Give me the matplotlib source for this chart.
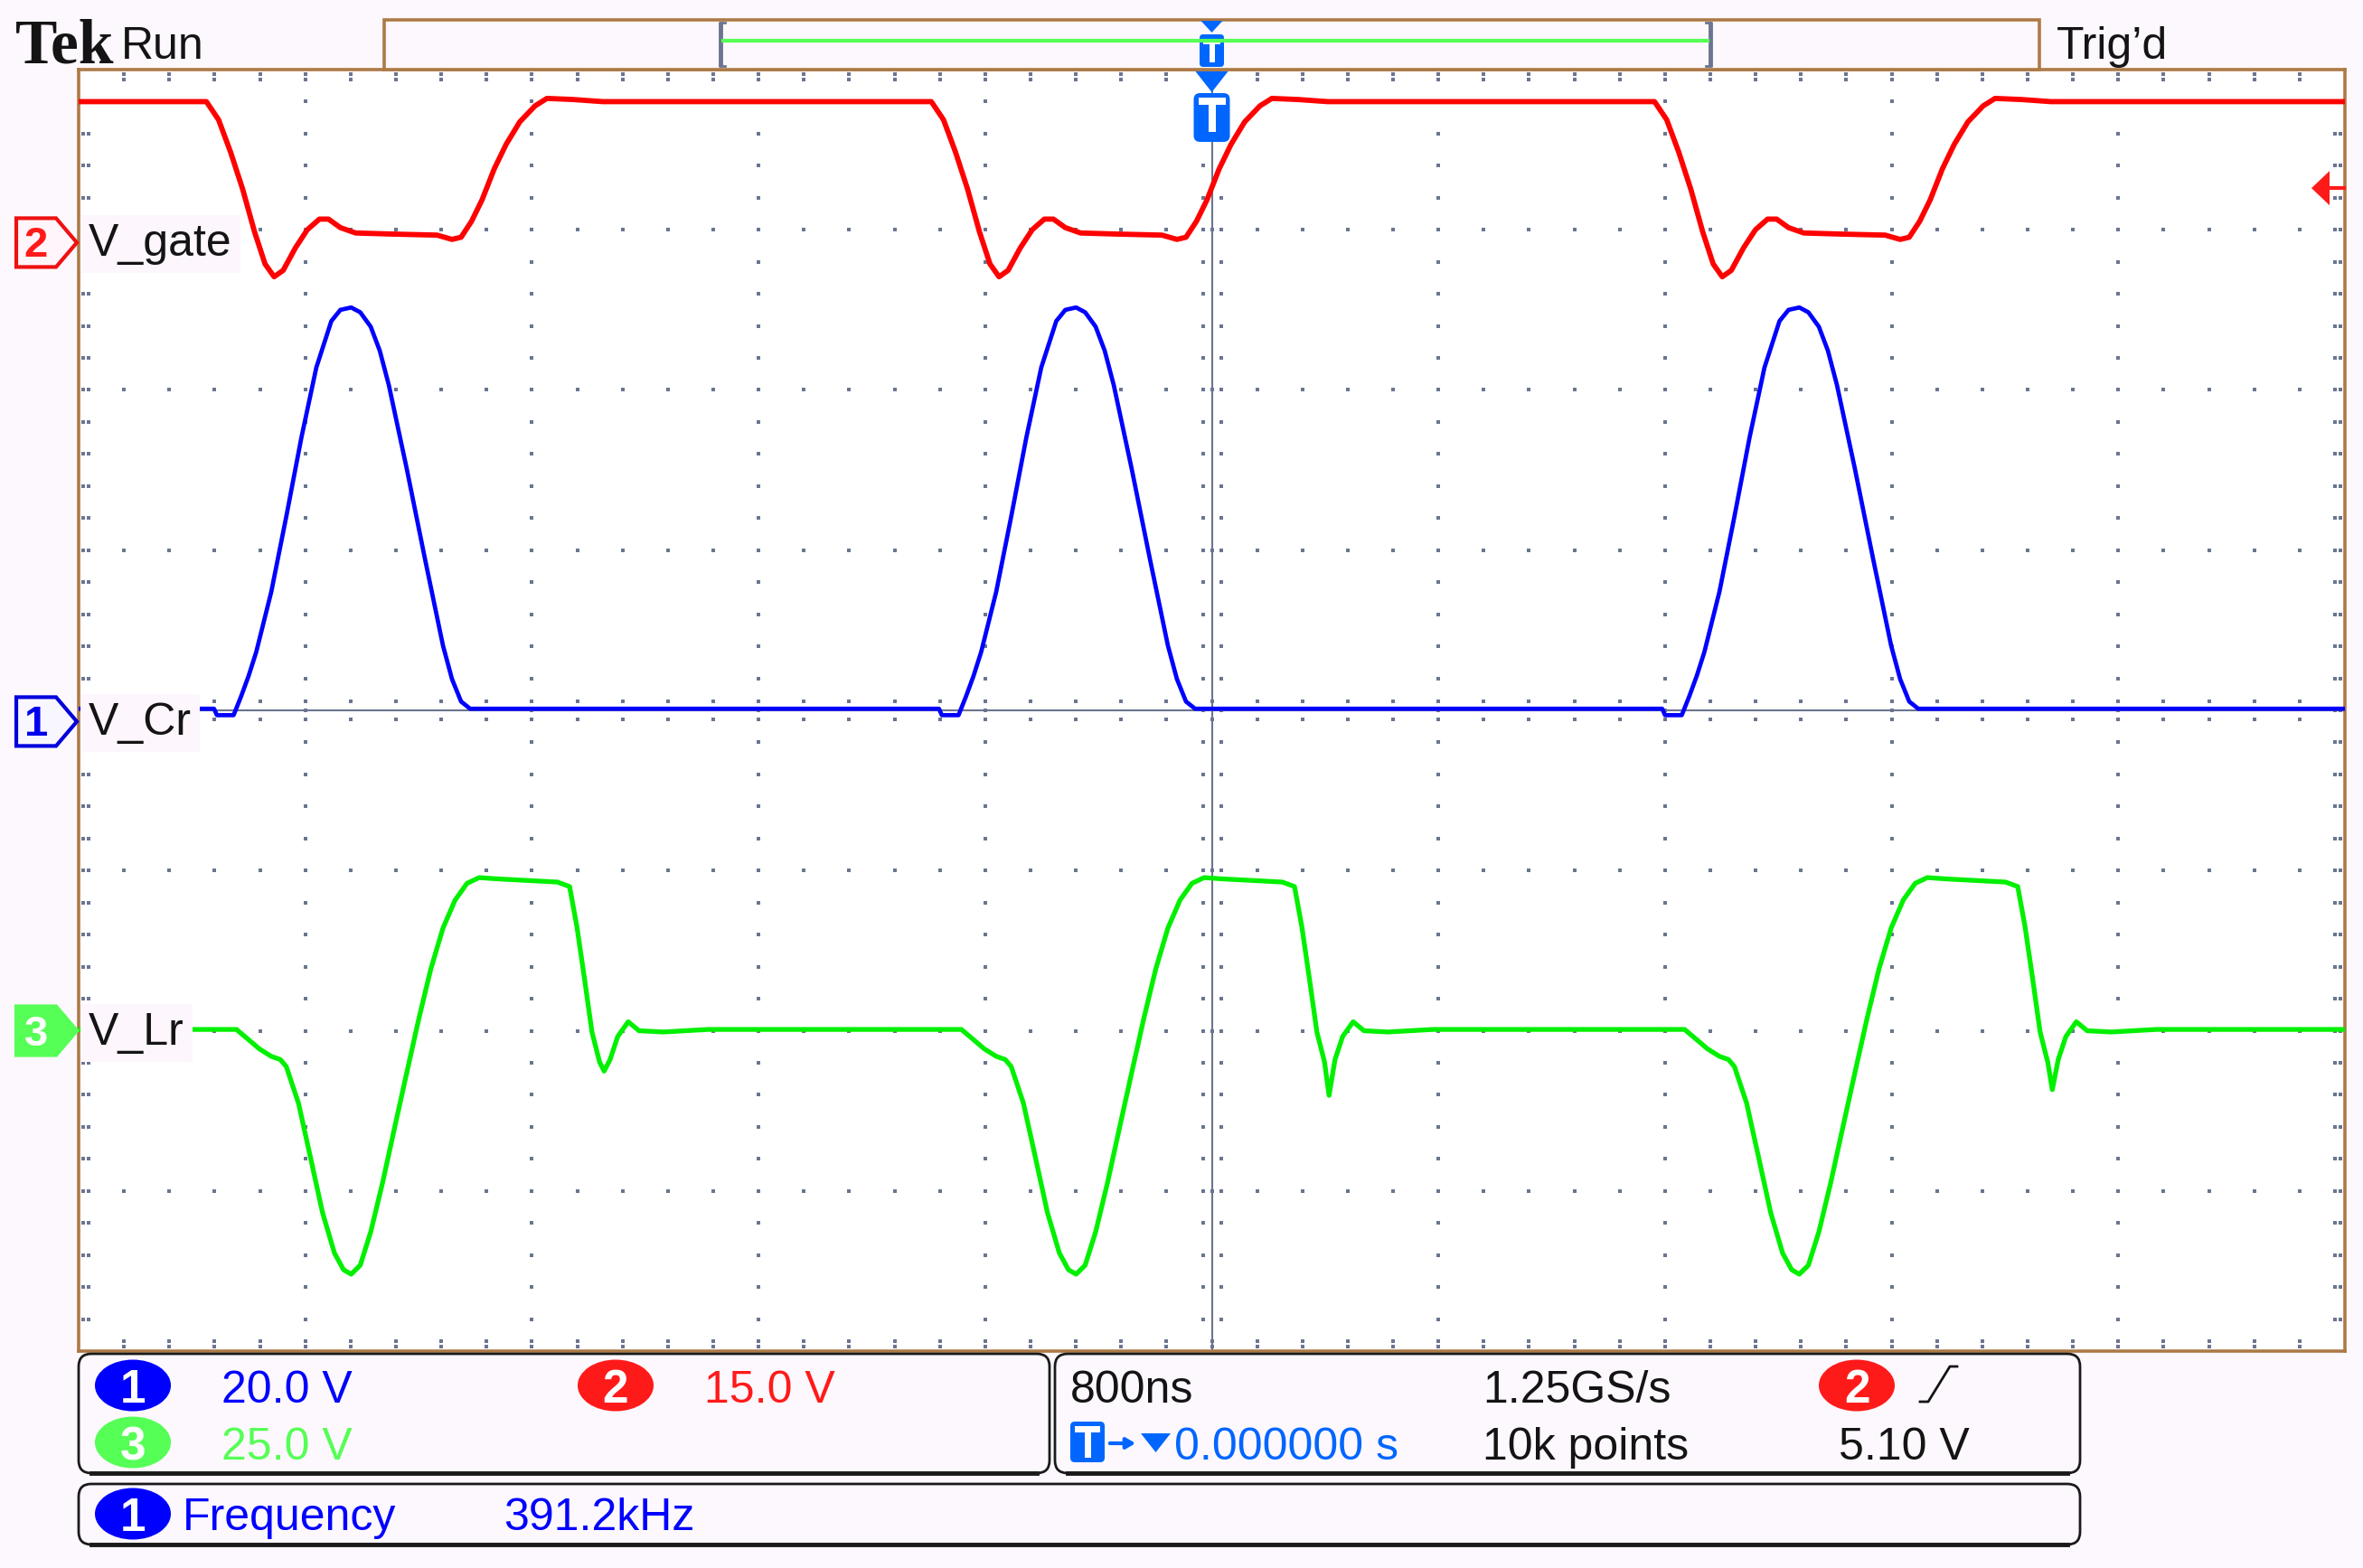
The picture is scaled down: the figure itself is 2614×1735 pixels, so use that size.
import numpy as np
import matplotlib
matplotlib.use("Agg")
import matplotlib.pyplot as plt
from matplotlib import font_manager
from matplotlib.patches import Rectangle, FancyBboxPatch, Polygon, Ellipse

# -----------------------------
# Scope settings
# -----------------------------
TIME_PER_DIV_NS = 800
CH_NAMES = {1: "V_Cr", 2: "V_gate", 3: "V_Lr"}
CH_VOLTS_DIV = {1: 20.0, 2: 15.0, 3: 25.0}
CH_OFFSET_DIV = {1: -0.07, 2: 2.92, 3: -2.0}
TRIG_LEVEL_V = 5.10
FREQ_KHZ = 391.2

# falling edge of V_gate at the start of each switching cycle (ns from trigger)
CYCLE_START_NS = [-6105, -3549, -990, 1563]

# one switching cycle, time in ns after the cycle start
GATE_T = [0, 43, 85, 128, 170, 207, 239, 271, 314, 356, 399, 431, 473, 527,
          654, 814, 867, 899, 936, 973, 1016, 1058, 1106, 1160, 1202, 1293, 1399]
GATE_V = [13.2, 11.5, 8.5, 5.0, 1.0, -2.0, -3.2, -2.6, -0.5, 1.2, 2.2, 2.2, 1.4, 0.9,
          0.8, 0.7, 0.3, 0.5, 2.0, 4.0, 6.9, 9.2, 11.3, 12.8, 13.5, 13.4, 13.2]

CR_T = [0, 27, 37, 96, 122, 149, 176, 229, 282, 335, 388, 441, 473, 511, 543, 580,
        612, 644, 707, 771, 835, 867, 899, 931]
CR_V = [1.6, 1.6, 0.8, 0.8, 3.1, 5.7, 8.7, 16.2, 25.6, 35.4, 44.2, 50.0, 51.4, 51.7,
        51.1, 49.3, 46.3, 42.0, 31.6, 20.4, 9.5, 5.3, 2.5, 1.6]

LR_T = [0, 106, 149, 186, 229, 261, 282, 325, 367, 410, 452, 484, 511, 543, 580,
        622, 665, 707, 750, 792, 835, 878, 920, 963, 1026, 1239, 1282, 1308, 1335,
        1361, 1388, 1404, 1425, 1452, 1489, 1527, 1612, 1771]
LR_V = [0.2, 0.2, -1.4, -2.8, -4.0, -4.5, -5.6, -11.3, -19.7, -28.4, -34.7, -37.3,
        -38.0, -36.6, -31.4, -23.7, -15.0, -6.6, 1.9, 9.6, 16.0, 20.4, 23.0, 23.9,
        23.7, 23.2, 22.5, 16.2, 8.0, -0.2, -4.9, -6.3, -4.5, -0.9, 1.4, 0.0, -0.2, 0.2]
# depth of the ringing dip after the V_Lr plateau, per cycle
LR_RING_MIN = [-6.3, -6.3, -10.1, -9.2]

# -----------------------------
# Layout / colours
# -----------------------------
W, H = 2614, 1735
PLOT_L, PLOT_R, PLOT_T, PLOT_B = 87, 2594, 77, 1495
DIV_W = (PLOT_R - PLOT_L) / 10
DIV_H = (PLOT_B - PLOT_T) / 8
Y_MID = (PLOT_T + PLOT_B) / 2

BG = "#fdf8fd"
BROWN = "#ad7a46"
GRID = "#6b7591"
RED = "#ff0000"
BLUE = "#0000ff"
GREEN = "#00f000"
LGREEN = "#55ff55"
TBLUE = "#0066ff"
INK = "#141414"
CH_COLORS = {1: BLUE, 2: RED, 3: GREEN}
CH_LW = {1: 3.4, 2: 4.2, 3: 3.8}

names = {f.name for f in font_manager.fontManager.ttflist}
FONT = "Liberation Sans Narrow" if "Liberation Sans Narrow" in names else "Liberation Sans"
FS = 38 if FONT.endswith("Narrow") else 36
TXT = dict(fontfamily=FONT, fontsize=FS)


def build(cyc_t, cyc_v, ring=None):
    ts, vs = [], []
    cyc_t = np.asarray(cyc_t, float)
    for i, t0 in enumerate(CYCLE_START_NS):
        v = np.asarray(cyc_v, float).copy()
        if ring is not None:
            idx = np.argmin(np.where(cyc_t > 1300, v, np.inf))
            v[idx] = ring[i]
        ts.append(t0 + cyc_t)
        vs.append(v)
    period = 1e6 / FREQ_KHZ
    ts.append([CYCLE_START_NS[-1] + period])
    vs.append([vs[-1][-1]])
    return np.concatenate(ts), np.concatenate(vs)


traces = {
    2: build(GATE_T, GATE_V),
    1: build(CR_T, CR_V),
    3: build(LR_T, LR_V, LR_RING_MIN),
}

# -----------------------------
# Figure
# -----------------------------
fig = plt.figure(figsize=(W / 100, H / 100), dpi=100, facecolor=BG)
ax = fig.add_axes([PLOT_L / W, 1 - PLOT_B / H, (PLOT_R - PLOT_L) / W, (PLOT_B - PLOT_T) / H])
ax.set_facecolor("white")
ax.set_xlim(-5 * TIME_PER_DIV_NS, 5 * TIME_PER_DIV_NS)
ax.set_ylim(-4, 4)
ax.set_xticks([])
ax.set_yticks([])
for s in ax.spines.values():
    s.set_color(BROWN)
    s.set_linewidth(2.6)

# graticule
px_x = 10 * TIME_PER_DIV_NS / (PLOT_R - PLOT_L)
px_y = 8 / (PLOT_B - PLOT_T)
step_x = TIME_PER_DIV_NS / 5
xs_minor = np.arange(-4000, 4001, step_x)[1:-1]
ys_minor = np.round(np.arange(-4, 4.0001, 0.2), 3)[1:-1]
pts = []
for xm in np.arange(-3200, 3201, TIME_PER_DIV_NS):
    if xm != 0:
        pts += [(xm, y) for y in ys_minor]
for ym in range(-3, 4):
    if ym != 0:
        pts += [(x, ym) for x in xs_minor]
for x in xs_minor:
    pts += [(x, 4 - 5 * px_y), (x, 4 - 11 * px_y), (x, -4 + 5 * px_y), (x, -4 + 11 * px_y),
            (x, 10 * px_y), (x, -10 * px_y)]
for y in ys_minor:
    pts += [(-4000 + 5 * px_x, y), (-4000 + 11 * px_x, y), (4000 - 5 * px_x, y),
            (4000 - 11 * px_x, y), (10 * px_x, y), (-10 * px_x, y)]
pts = np.array(pts)
ax.scatter(pts[:, 0], pts[:, 1], s=5, marker="s", color=GRID, linewidths=0, zorder=1)
ax.axhline(0, color=GRID, lw=1.5, zorder=1.5)
ax.axvline(0, color=GRID, lw=1.5, zorder=1.5)

# waveforms
for ch in (2, 1, 3):
    t, v = traces[ch]
    ax.plot(t, v / CH_VOLTS_DIV[ch] + CH_OFFSET_DIV[ch], color=CH_COLORS[ch],
            lw=CH_LW[ch], zorder=3)

# channel names on the left edge
for ch in (2, 1, 3):
    ax.text(-4000 + 11 * px_x, CH_OFFSET_DIV[ch] - 15 * px_y, CH_NAMES[ch], color=INK,
            va="baseline", ha="left", zorder=6,
            bbox=dict(boxstyle="square,pad=0.18", fc="#fdf6fd", ec="none"), **TXT)

# -----------------------------
# Overlay in pixel coordinates
# -----------------------------
ov = fig.add_axes([0, 0, 1, 1], zorder=10)
ov.set_xlim(0, W)
ov.set_ylim(H, 0)
ov.axis("off")
ov.patch.set_alpha(0)

# header
ov.text(17, 70, "Tek", fontfamily="Liberation Serif", fontweight="bold", fontsize=50,
        color=INK, va="baseline")
ov.text(134, 65, "Run", color=INK, va="baseline", **TXT)
ov.text(2275, 65, "Trig\u2019d", color=INK, va="baseline", **TXT)
ov.add_patch(Rectangle((425, 22), 1831, 55, fc=BG, ec=BROWN, lw=2.6))
for xb, d in ((797, 1), (1892, -1)):
    ov.plot([xb, xb], [24, 74], color=GRID, lw=3.5, solid_capstyle="butt")
    ov.plot([xb, xb + 5 * d], [25, 25], color=GRID, lw=2)
    ov.plot([xb, xb + 5 * d], [73, 73], color=GRID, lw=2)
ov.plot([800, 1889], [45, 45], color=LGREEN, lw=3)

xc = (PLOT_L + PLOT_R) / 2
ov.add_patch(Polygon([(xc - 12, 23), (xc + 12, 23), (xc, 36)], fc=TBLUE, ec="none"))
ov.add_patch(FancyBboxPatch((xc - 13.5, 38), 27, 36, boxstyle="round,pad=0,rounding_size=4",
                            fc=TBLUE, ec="none"))
ov.add_patch(Rectangle((xc - 9.5, 43), 19, 6, fc="white", ec="none"))
ov.add_patch(Rectangle((xc - 3, 49), 6, 20, fc="white", ec="none"))
# trigger marker inside the graticule
ov.add_patch(Polygon([(xc - 18, 79), (xc + 18, 79), (xc, 102)], fc=TBLUE, ec="none"))
ov.add_patch(FancyBboxPatch((xc - 20, 103), 40, 54, boxstyle="round,pad=0,rounding_size=7",
                            fc=TBLUE, ec="none"))
ov.add_patch(Rectangle((xc - 15, 108), 30, 8, fc="white", ec="none"))
ov.add_patch(Rectangle((xc - 4, 116), 8, 30, fc="white", ec="none"))

# trigger level arrow on the right
y_trig = Y_MID - (TRIG_LEVEL_V / CH_VOLTS_DIV[2] + CH_OFFSET_DIV[2]) * DIV_H
ov.add_patch(Polygon([(2557, y_trig), (2577, y_trig - 19), (2577, y_trig + 19)], fc="#ff1a1a", ec="none"))
ov.plot([2575, 2593], [y_trig, y_trig], color="#ff1a1a", lw=3)

# channel ground markers
marker_style = {2: ("#ee1111", "#fff5fa", "#ff1a1a"),
                1: ("#0000dd", "#f8f6ff", "#0000ee"),
                3: (LGREEN, LGREEN, "white")}
for ch in (2, 1, 3):
    y0 = Y_MID - CH_OFFSET_DIV[ch] * DIV_H
    ec, fc, tc = marker_style[ch]
    ov.add_patch(Polygon([(18, y0 - 27), (62, y0 - 27), (85, y0), (62, y0 + 27), (18, y0 + 27)],
                         closed=True, fc=fc, ec=ec, lw=3, joinstyle="miter"))
    ov.text(40, y0 + 16, str(ch), color=tc, ha="center", va="baseline", fontweight="bold",
            fontfamily=FONT, fontsize=34)

# -----------------------------
# Readout panels
# -----------------------------
for x0, y0, x1, y1 in ((87, 1498, 1161, 1630), (1167, 1498, 2301, 1630), (87, 1642, 2301, 1709)):
    ov.add_patch(FancyBboxPatch((x0, y0), x1 - x0, y1 - y0, boxstyle="round,pad=0,rounding_size=14",
                                fc=BG, ec="#1a1a1a", lw=2))
    ov.plot([x0 + 14, x1 - 14], [y1, y1], color="#1a1a1a", lw=3.5)


def badge(x, y, label, color):
    ov.add_patch(Ellipse((x, y), 84, 57, fc=color, ec="none"))
    ov.text(x, y + 19, label, color="white", ha="center", va="baseline", fontweight="bold",
            fontfamily=FONT, fontsize=37)


badge(147, 1533, "1", BLUE)
ov.text(245, 1552, "%.1f V" % CH_VOLTS_DIV[1], color=BLUE, va="baseline", **TXT)
badge(681, 1533, "2", "#ff1a1a")
ov.text(779, 1552, "%.1f V" % CH_VOLTS_DIV[2], color="#ff1a1a", va="baseline", **TXT)
badge(147, 1596, "3", LGREEN)
ov.text(245, 1615, "%.1f V" % CH_VOLTS_DIV[3], color=LGREEN, va="baseline", **TXT)

ov.text(1184, 1552, "%dns" % TIME_PER_DIV_NS, color=INK, va="baseline", **TXT)
ov.text(1640, 1552, "1.25GS/s", color=INK, va="baseline", **TXT)
badge(2054, 1533, "2", "#ff1a1a")
ov.plot([2124, 2133, 2157, 2165], [1551, 1551, 1512, 1512], color=INK, lw=2)
ov.add_patch(FancyBboxPatch((1184, 1573), 38, 45, boxstyle="round,pad=0,rounding_size=5",
                            fc=TBLUE, ec="none"))
ov.add_patch(Rectangle((1189, 1578), 28, 7, fc="white", ec="none"))
ov.add_patch(Rectangle((1199.5, 1585), 7, 28, fc="white", ec="none"))
ov.annotate("", xy=(1259, 1597), xytext=(1225, 1597),
            arrowprops=dict(arrowstyle="-|>,head_length=0.6,head_width=0.35", color=TBLUE, lw=3))
ov.add_patch(Polygon([(1262, 1586), (1295, 1586), (1278.5, 1607)], fc=TBLUE, ec="none"))
ov.text(1299, 1615, "0.000000 s", color=TBLUE, va="baseline", **TXT)
ov.text(1640, 1615, "10k points", color=INK, va="baseline", **TXT)
ov.text(2034, 1615, "%.2f V" % TRIG_LEVEL_V, color=INK, va="baseline", **TXT)

badge(147, 1675, "1", BLUE)
ov.text(202, 1693, "Frequency", color=BLUE, va="baseline", **TXT)
ov.text(557, 1693, "%.1fkHz" % FREQ_KHZ, color=BLUE, va="baseline", **TXT)

fig.savefig("out.png", dpi=100, facecolor=BG)
